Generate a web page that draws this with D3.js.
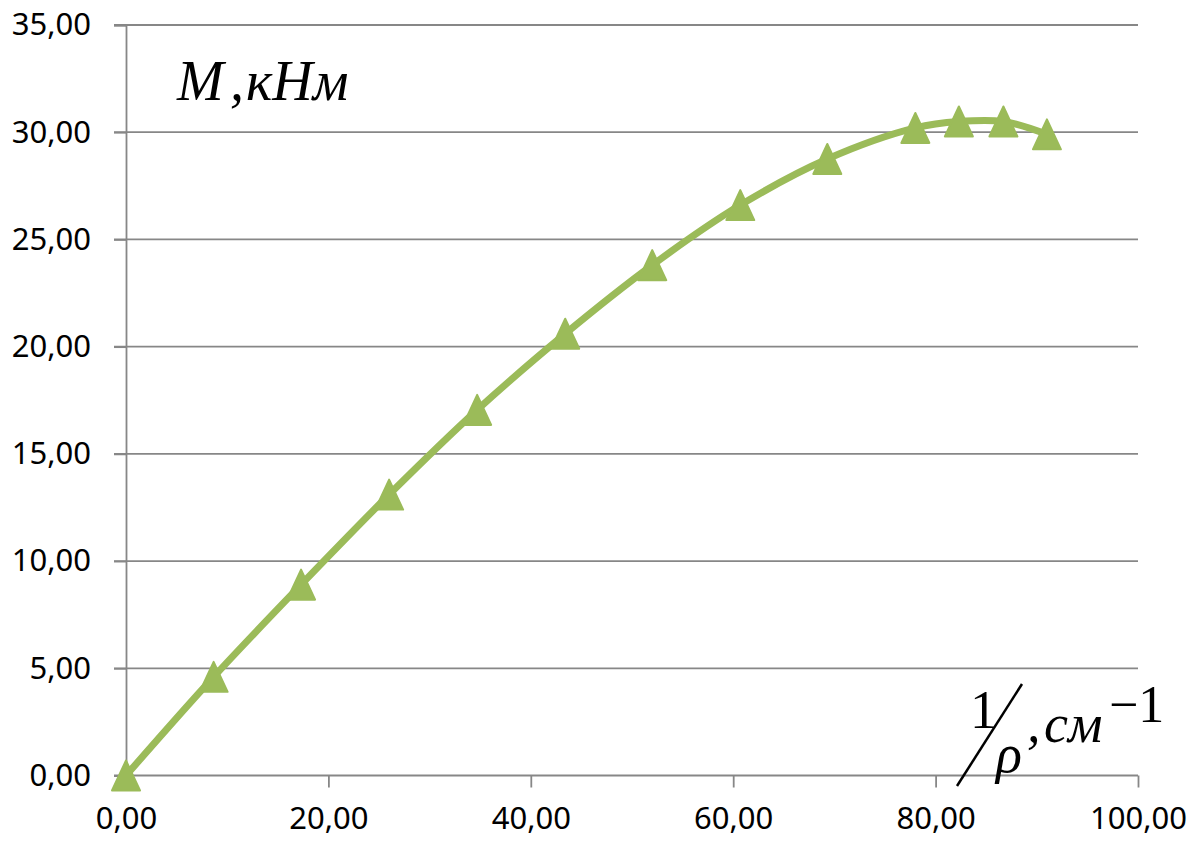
<!DOCTYPE html>
<html>
<head>
<meta charset="utf-8">
<script src="https://cdn.jsdelivr.net/npm/d3@7"></script>
<style>
  body { margin: 0; background: #fff; }
  .tick-label { font-family: "Noto Sans", "Open Sans", sans-serif; font-size: 31px; fill: #000; }
  .eq { font-family: "Liberation Serif", "DejaVu Serif", serif; fill: #000; }
</style>
</head>
<body>
<div id="chart"></div>
<script>
/// Data: curvature 1/rho (cm^-1) vs moment M (kNm)
var curvature = [0, 8.66, 17.3, 26.0, 34.7, 43.4, 52.0, 60.7, 69.3, 78.0, 82.3, 86.7, 91.0];
var moment    = [0, 4.6, 8.9, 13.1, 17.05, 20.6, 23.8, 26.6, 28.75, 30.2, 30.5, 30.5, 29.9];
var xTicks = [0, 20, 40, 60, 80, 100];
var yTicks = [0, 5, 10, 15, 20, 25, 30, 35];

var svgWidth = 1198;
var svgHeight = 847;

var plot = { left: 126, right: 1138, top: 25, bottom: 775.5 };

var svg = d3.select("#chart")
    .append("svg")
    .attr("width", svgWidth)
    .attr("height", svgHeight);

var x = d3.scaleLinear().domain([0, 100]).range([plot.left, plot.right]);
var y = d3.scaleLinear().domain([0, 35]).range([plot.bottom, plot.top]);

var fmt = function(v) { return d3.format(".2f")(v).replace(".", ","); };
var gridColor = "#878787";

/// Horizontal gridlines (they start at the y tick mark)
svg.append("g")
    .selectAll("line")
    .data(yTicks)
    .enter()
    .append("line")
    .attr("x1", plot.left - 12)
    .attr("x2", plot.right)
    .attr("y1", d => y(d))
    .attr("y2", d => y(d))
    .attr("stroke", gridColor)
    .attr("stroke-width", 1.8);

/// Y axis
var yAxis = svg.append("g")
    .attr("transform", `translate(${plot.left},0)`)
    .call(d3.axisLeft(y).tickValues(yTicks).tickSize(12).tickPadding(23).tickFormat(fmt));
yAxis.select(".domain").attr("stroke", gridColor).attr("stroke-width", 1.8);
yAxis.selectAll(".tick line").attr("stroke", gridColor).attr("stroke-width", 1.8);
yAxis.selectAll("text").attr("class", "tick-label").attr("font-size", null).attr("font-family", null);

/// X axis
var xAxis = svg.append("g")
    .attr("transform", `translate(0,${plot.bottom})`)
    .call(d3.axisBottom(x).tickValues(xTicks).tickSize(12).tickPadding(19).tickFormat(fmt));
xAxis.select(".domain").remove();
xAxis.selectAll(".tick line").attr("stroke", gridColor).attr("stroke-width", 1.8);
xAxis.selectAll("text").attr("class", "tick-label").attr("font-size", null).attr("font-family", null);

var points = curvature.map((c, i) => ({ x: c, y: moment[i] }));

/// Smoothed line
var line = d3.line()
    .x(d => x(d.x))
    .y(d => y(d.y))
    .curve(d3.curveCatmullRom.alpha(0.5));

svg.append("path")
    .datum(points)
    .attr("d", line)
    .attr("fill", "none")
    .attr("stroke", "#9bbb59")
    .attr("stroke-width", 7)
    .attr("stroke-linejoin", "round");

/// Triangle markers
svg.append("g")
    .selectAll("path")
    .data(points)
    .enter()
    .append("path")
    .attr("transform", d => `translate(${x(d.x)},${y(d.y)})`)
    .attr("d", "M0,-15 L14,15 L-14,15 Z")
    .attr("fill", "#9bbb59")
    .attr("stroke", "#9bbb59")
    .attr("stroke-width", 2)
    .attr("stroke-linejoin", "round");

/// Y axis title: M , кНм
var yTitle = svg.append("text")
    .attr("class", "eq")
    .attr("x", 177)
    .attr("y", 100)
    .attr("font-size", 56)
    .attr("font-style", "italic");
yTitle.append("tspan").text("M");
yTitle.append("tspan").attr("x", 230).text(",");
yTitle.append("tspan").attr("x", 246).text("кНм");

/// X axis title: 1/ρ , см^-1
svg.append("text")
    .attr("class", "eq")
    .attr("x", 970)
    .attr("y", 728)
    .attr("font-size", 54)
    .text("1");
svg.append("line")
    .attr("x1", 957).attr("y1", 786)
    .attr("x2", 1022).attr("y2", 684)
    .attr("stroke", "#000")
    .attr("stroke-width", 2.5);
svg.append("text")
    .attr("class", "eq")
    .attr("x", 996)
    .attr("y", 772)
    .attr("font-size", 54)
    .attr("font-style", "italic")
    .text("ρ");
var xTitle = svg.append("text")
    .attr("class", "eq")
    .attr("x", 1027)
    .attr("y", 742)
    .attr("font-size", 54)
    .attr("font-style", "italic");
xTitle.append("tspan").text(",");
xTitle.append("tspan").attr("x", 1044).text("см");
svg.append("text")
    .attr("class", "eq")
    .attr("x", 1109)
    .attr("y", 722)
    .attr("font-size", 52)
    .text("−1");
</script>
</body>
</html>
